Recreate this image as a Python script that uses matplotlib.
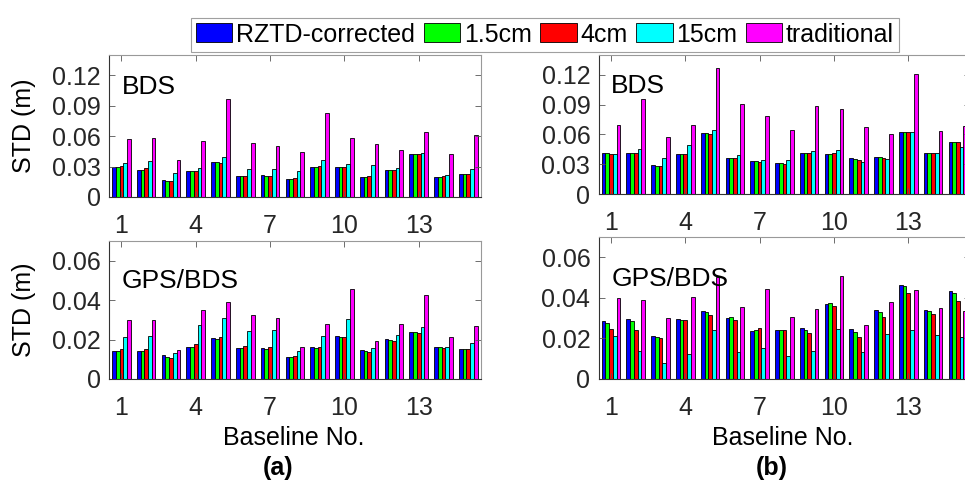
import numpy as np
import matplotlib
matplotlib.use("Agg")
import matplotlib.pyplot as plt

plt.rcParams['font.family'] = ['Liberation Sans', 'DejaVu Sans']

# series names and colours
series_names = ['RZTD-corrected', '1.5cm', '4cm', '15cm', 'traditional']
series_colors = ['#0000FF', '#00FF00', '#FF0000', '#00FFFF', '#FF00FF']

baselines = np.arange(1, 16)
xtick_pos = [1, 4, 7, 10, 13]

# (a) BDS
a_bds_rztd = [0.0296, 0.0270, 0.0164, 0.0253, 0.0348, 0.0207, 0.0214, 0.0181, 0.0299, 0.0296, 0.0194, 0.0270, 0.0420, 0.0200, 0.0223]
a_bds_15 = [0.0296, 0.0270, 0.0158, 0.0253, 0.0345, 0.0204, 0.0210, 0.0181, 0.0296, 0.0292, 0.0194, 0.0270, 0.0420, 0.0200, 0.0223]
a_bds_4 = [0.0302, 0.0283, 0.0161, 0.0253, 0.0338, 0.0204, 0.0210, 0.0187, 0.0309, 0.0292, 0.0204, 0.0270, 0.0424, 0.0204, 0.0230]
a_bds_150 = [0.0335, 0.0352, 0.0237, 0.0283, 0.0391, 0.0276, 0.0276, 0.0256, 0.0361, 0.0329, 0.0315, 0.0289, 0.0430, 0.0220, 0.0273]
a_bds_trad = [0.0568, 0.0582, 0.0361, 0.0549, 0.0963, 0.0536, 0.0506, 0.0447, 0.0825, 0.0585, 0.0526, 0.0463, 0.0641, 0.0421, 0.0608]

# (b) BDS
b_bds_rztd = [0.0413, 0.0413, 0.0289, 0.0403, 0.0612, 0.0360, 0.0329, 0.0313, 0.0417, 0.0403, 0.0363, 0.0373, 0.0625, 0.0417, 0.0528]
b_bds_15 = [0.0410, 0.0413, 0.0282, 0.0403, 0.0612, 0.0360, 0.0329, 0.0309, 0.0417, 0.0403, 0.0356, 0.0370, 0.0625, 0.0417, 0.0524]
b_bds_4 = [0.0407, 0.0410, 0.0282, 0.0403, 0.0608, 0.0360, 0.0323, 0.0299, 0.0417, 0.0410, 0.0340, 0.0366, 0.0625, 0.0417, 0.0521]
b_bds_150 = [0.0400, 0.0454, 0.0360, 0.0497, 0.0642, 0.0390, 0.0340, 0.0343, 0.0430, 0.0440, 0.0319, 0.0353, 0.0625, 0.0410, 0.0470]
b_bds_trad = [0.0692, 0.0958, 0.0575, 0.0696, 0.1267, 0.0904, 0.0787, 0.0645, 0.0884, 0.0854, 0.0672, 0.0605, 0.1207, 0.0632, 0.0680]

# (a) GPS/BDS
a_gb_rztd = [0.0143, 0.0143, 0.0120, 0.0162, 0.0207, 0.0158, 0.0157, 0.0113, 0.0160, 0.0217, 0.0147, 0.0201, 0.0238, 0.0162, 0.0153]
a_gb_15 = [0.0143, 0.0143, 0.0113, 0.0162, 0.0204, 0.0158, 0.0153, 0.0113, 0.0158, 0.0214, 0.0142, 0.0199, 0.0236, 0.0160, 0.0150]
a_gb_4 = [0.0153, 0.0150, 0.0106, 0.0177, 0.0212, 0.0167, 0.0163, 0.0116, 0.0162, 0.0214, 0.0136, 0.0195, 0.0234, 0.0155, 0.0150]
a_gb_150 = [0.0214, 0.0217, 0.0131, 0.0273, 0.0307, 0.0244, 0.0248, 0.0143, 0.0217, 0.0305, 0.0158, 0.0222, 0.0263, 0.0160, 0.0184]
a_gb_trad = [0.0300, 0.0298, 0.0145, 0.0349, 0.0393, 0.0324, 0.0310, 0.0162, 0.0281, 0.0457, 0.0194, 0.0278, 0.0426, 0.0214, 0.0270]

# (b) GPS/BDS
b_gb_rztd = [0.0287, 0.0297, 0.0213, 0.0295, 0.0333, 0.0303, 0.0239, 0.0244, 0.0251, 0.0370, 0.0246, 0.0339, 0.0464, 0.0338, 0.0434]
b_gb_15 = [0.0275, 0.0284, 0.0205, 0.0292, 0.0330, 0.0307, 0.0243, 0.0241, 0.0243, 0.0374, 0.0231, 0.0330, 0.0456, 0.0336, 0.0426]
b_gb_4 = [0.0246, 0.0241, 0.0200, 0.0290, 0.0316, 0.0293, 0.0252, 0.0244, 0.0228, 0.0359, 0.0207, 0.0307, 0.0425, 0.0320, 0.0385]
b_gb_150 = [0.0211, 0.0139, 0.0080, 0.0125, 0.0243, 0.0134, 0.0152, 0.0113, 0.0139, 0.0246, 0.0133, 0.0221, 0.0243, 0.0216, 0.0207]
b_gb_trad = [0.0397, 0.0389, 0.0303, 0.0402, 0.0505, 0.0357, 0.0443, 0.0305, 0.0344, 0.0510, 0.0267, 0.0380, 0.0439, 0.0349, 0.0333]

# y ticks
bds_yticks = [0, 0.03, 0.06, 0.09, 0.12]
bds_yticklabels = ['0', '0.03', '0.06', '0.09', '0.12']
gb_yticks = [0, 0.02, 0.04, 0.06]
gb_yticklabels = ['0', '0.02', '0.04', '0.06']

FS = 18
W = 965.0
H = 484.0

fig = plt.figure(figsize=(9.65, 4.84), dpi=100)


def px_axes(left, top, right, bottom):
    # pixel box -> figure fraction axes
    return fig.add_axes([left / W, 1 - bottom / H, (right - left) / W, (bottom - top) / H])


def draw_panel(ax, series, yticks, yticklabels, ymax, name, name_y):
    bw = 0.15
    for i, vals in enumerate(series):
        ax.bar(baselines + (i - 2) * bw, vals, width=bw, color=series_colors[i],
               edgecolor='black', linewidth=0.6, label=series_names[i])
    ax.set_xlim(0.5, 15.5)
    ax.set_ylim(0, ymax)
    ax.set_xticks(xtick_pos)
    ax.set_xticklabels([str(t) for t in xtick_pos])
    ax.set_yticks(yticks)
    ax.set_yticklabels(yticklabels)
    ax.tick_params(axis='both', direction='in', top=True, right=True, length=4,
                   labelsize=FS, colors='#262626', width=0.6)
    ax.tick_params(axis='x', pad=12)
    ax.tick_params(axis='y', pad=6)
    ax.tick_params(axis='both', colors='#555555')
    for lbl in ax.get_xticklabels() + ax.get_yticklabels():
        lbl.set_color('#262626')
    ax.spines['left'].set_color('#333333')
    ax.spines['bottom'].set_color('#333333')
    ax.spines['top'].set_color('#999999')
    ax.spines['right'].set_color('#999999')
    ax.text(0.034, name_y, name, transform=ax.transAxes, fontsize=19, va='center', ha='left')


ax_a1 = px_axes(109, 55, 480.6, 197)
draw_panel(ax_a1, [a_bds_rztd, a_bds_15, a_bds_4, a_bds_150, a_bds_trad],
           bds_yticks, bds_yticklabels, 0.14, 'BDS', 0.777)

ax_b1 = px_axes(598.6, 55, 970.2, 194)
draw_panel(ax_b1, [b_bds_rztd, b_bds_15, b_bds_4, b_bds_150, b_bds_trad],
           bds_yticks, bds_yticklabels, 0.14, 'BDS', 0.778)

ax_a2 = px_axes(109, 241, 480.6, 379)
draw_panel(ax_a2, [a_gb_rztd, a_gb_15, a_gb_4, a_gb_150, a_gb_trad],
           gb_yticks, gb_yticklabels, 0.07, 'GPS/BDS', 0.71)

ax_b2 = px_axes(598.6, 237, 970.2, 379)
draw_panel(ax_b2, [b_gb_rztd, b_gb_15, b_gb_4, b_gb_150, b_gb_trad],
           gb_yticks, gb_yticklabels, 0.07, 'GPS/BDS', 0.706)

# y labels only on the left column
fig.text(24 / W, 1 - 126 / H, 'STD (m)', rotation=90, fontsize=FS, ha='center', va='center')
fig.text(24 / W, 1 - 310 / H, 'STD (m)', rotation=90, fontsize=FS, ha='center', va='center')

# x labels and panel letters
fig.text(293.5 / W, 1 - 438 / H, 'Baseline No.', fontsize=FS, ha='center', va='center')
fig.text(783 / W, 1 - 438 / H, 'Baseline No.', fontsize=FS, ha='center', va='center')
fig.text(278 / W, 1 - 468 / H, '(a)', fontsize=FS, fontweight='bold', ha='center', va='center')
fig.text(772 / W, 1 - 468 / H, '(b)', fontsize=FS, fontweight='bold', ha='center', va='center')

# shared legend on top
handles, labels = ax_a1.get_legend_handles_labels()
leg = fig.legend(handles, labels, loc='center', bbox_to_anchor=(545 / W, 1 - 34.5 / H),
                 ncol=5, fontsize=FS, frameon=True, fancybox=False, edgecolor='#888888',
                 handlelength=1.45, handleheight=0.8, handletextpad=0.15,
                 columnspacing=0.35, borderpad=0.2, borderaxespad=0)
leg.get_frame().set_linewidth(0.8)

fig.savefig('out.png', dpi=100)
